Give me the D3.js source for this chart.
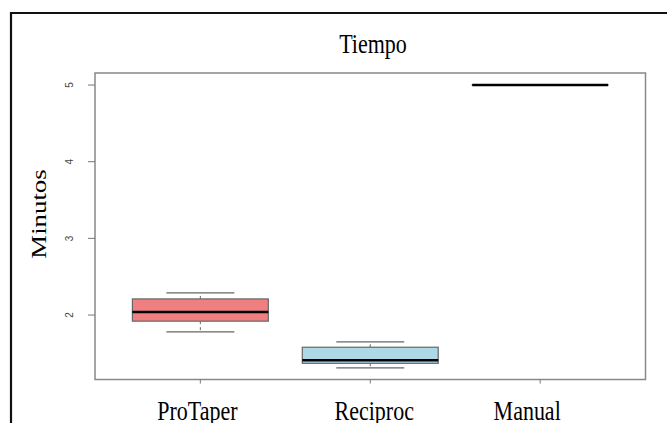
<!DOCTYPE html>
<html><head><meta charset="utf-8">
<script src="https://cdn.jsdelivr.net/npm/d3@7/dist/d3.min.js"></script>
<style>body{margin:0;background:#fff}svg{display:block}</style>
</head><body>
<svg id="c" width="667" height="423"></svg>
<script>
const categories = ["ProTaper", "Reciproc", "Manual"];
const lowerWhisker = [1.78, 1.31, 5];
const q1 = [1.92, 1.37, 5];
const median = [2.04, 1.41, 5];
const q3 = [2.21, 1.58, 5];
const upperWhisker = [2.29, 1.65, 5];
const fills = ["#F08080", "#ADD8E6", "#ADD8E6"];
const yTicks = [2, 3, 4, 5];
const title = "Tiempo";
const yTitle = "Minutos";

const svg = d3.select("#c");
const L = 95, R = 645.5, T = 73, B = 379.5;
const x = d3.scaleLinear().domain([0.38, 3.62]).range([L, R]);
const y = d3.scaleLinear().domain([1.159, 5.157]).range([B, T]);
const stretch = 1.22;
const serif = "'Liberation Serif','Times New Roman',serif";

// outer frame
svg.append("path").attr("d", `M11,423 L11,13 L667,13`).attr("fill","none")
  .attr("stroke","#111").attr("stroke-width",2.2);

// boxes
const g = svg.append("g");
categories.forEach((c, i) => {
  const cx = x(i + 1), hw = x(1.4) - x(1), ww = x(1.2) - x(1);
  const col = "#666";
  // dashed connectors
  g.append("line").attr("x1",cx).attr("x2",cx).attr("y1",y(q3[i])).attr("y2",y(upperWhisker[i]))
    .attr("stroke",col).attr("stroke-dasharray","3,3");
  g.append("line").attr("x1",cx).attr("x2",cx).attr("y1",y(q1[i])).attr("y2",y(lowerWhisker[i]))
    .attr("stroke",col).attr("stroke-dasharray","3,3");
  g.append("line").attr("x1",cx-ww).attr("x2",cx+ww).attr("y1",y(upperWhisker[i])).attr("y2",y(upperWhisker[i]))
    .attr("stroke",col).attr("stroke-width",1.2);
  g.append("line").attr("x1",cx-ww).attr("x2",cx+ww).attr("y1",y(lowerWhisker[i])).attr("y2",y(lowerWhisker[i]))
    .attr("stroke",col).attr("stroke-width",1.2);
  g.append("rect").attr("x",cx-hw).attr("width",2*hw)
    .attr("y",y(q3[i])).attr("height",Math.max(0.01, y(q1[i]) - y(q3[i])))
    .attr("fill",fills[i]).attr("stroke",col).attr("stroke-width",1.2);
  g.append("line").attr("x1",cx-hw).attr("x2",cx+hw).attr("y1",y(median[i])).attr("y2",y(median[i]))
    .attr("stroke","#000").attr("stroke-width",2.6);
});

// plot frame
svg.append("rect").attr("x",L).attr("y",T).attr("width",R-L).attr("height",B-T)
  .attr("fill","none").attr("stroke","#888").attr("stroke-width",1.5);

// y axis ticks
yTicks.forEach(t => {
  svg.append("line").attr("x1",L-7).attr("x2",L).attr("y1",y(t)).attr("y2",y(t))
    .attr("stroke","#777").attr("stroke-width",1);
  svg.append("text").attr("transform",`translate(73,${y(t)}) rotate(-90)`)
    .attr("text-anchor","middle").attr("font-family","'Liberation Sans',Arial,sans-serif")
    .attr("font-size",10).attr("fill","#444").text(t);
});
// x axis ticks
categories.forEach((c, i) => {
  svg.append("line").attr("x1",x(i+1)).attr("x2",x(i+1)).attr("y1",B).attr("y2",B+4)
    .attr("stroke","#777").attr("stroke-width",1);
});

// x labels
const nudge = [-3, 4, -13];
categories.forEach((c, i) => {
  svg.append("text").attr("transform",`translate(${x(i+1)+nudge[i]},420) scale(1,${stretch})`)
    .attr("text-anchor","middle").attr("font-family",serif).attr("font-size",22)
    .attr("fill","#000").text(c);
});

// title
svg.append("text").attr("transform",`translate(373,53) scale(1,${stretch})`)
  .attr("text-anchor","middle").attr("font-family",serif).attr("font-size",22).text(title);

// y title
svg.append("text").attr("transform",`translate(46,214) scale(1,${stretch}) rotate(-90)`)
  .attr("text-anchor","middle").attr("font-family",serif).attr("font-size",22).text(yTitle);
</script>
</body></html>
